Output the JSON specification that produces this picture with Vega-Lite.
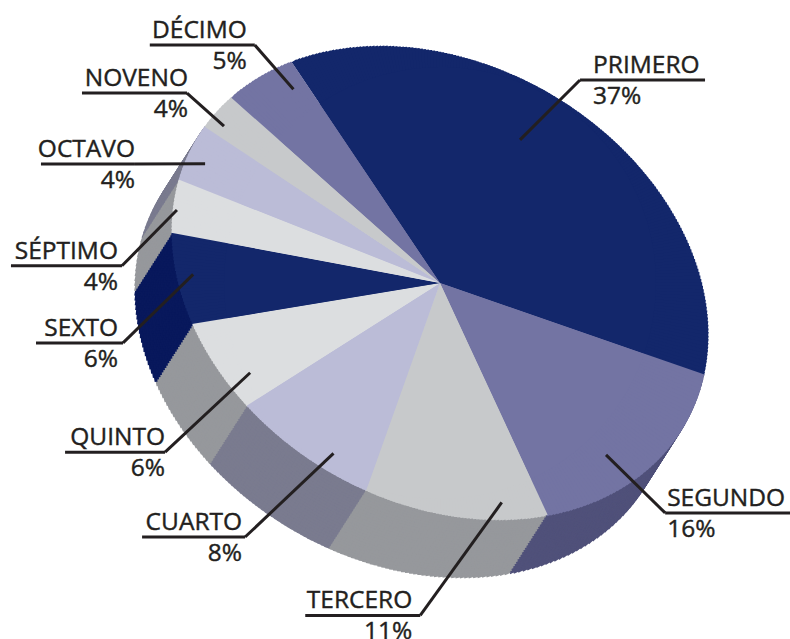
{"$schema":"https://vega.github.io/schema/vega-lite/v6.json","width":790,"height":639,"padding":0,"autosize":{"type":"none"},"background":"white","view":{"stroke":null},
"data":{"values":[
{"order":0,"slice":"PRIMERO","pct":37,"sweep":143},
{"order":1,"slice":"SEGUNDO","pct":16,"sweep":46},
{"order":2,"slice":"TERCERO","pct":11,"sweep":44.5},
{"order":3,"slice":"CUARTO","pct":8,"sweep":38},
{"order":4,"slice":"QUINTO","pct":6,"sweep":23},
{"order":5,"slice":"SEXTO","pct":6,"sweep":20},
{"order":6,"slice":"SÉPTIMO","pct":4,"sweep":11},
{"order":7,"slice":"OCTAVO","pct":4,"sweep":12},
{"order":8,"slice":"NOVENO","pct":4,"sweep":8},
{"order":9,"slice":"DÉCIMO","pct":5,"sweep":14.5}]},
"transform":[
{"stack":"sweep","groupby":[],"sort":[{"field":"order"}],"as":["a0","a1"]},
{"calculate":"[34.6,135.6,183.4,217.5,238.4,259.3,273.1,291.3,306.9,322.1][datum.order]*PI/180","as":"ea"},
{"calculate":"[246.6,321.8,333,320.2,322.8,322.6,318.5,327.4,316.4,301.5][datum.order]","as":"er"},
{"calculate":"[29.2,136,164.3,212,244.7,272,285.5,296.9,306,322.9][datum.order]*PI/180","as":"ia"},
{"calculate":"[164,239,228,201,210,247,273,263.4,267,243][datum.order]","as":"ir"},
{"calculate":"440+datum.er*sin(datum.ea)","as":"ex"},
{"calculate":"283-datum.er*cos(datum.ea)","as":"ey"},
{"calculate":"440+datum.ir*sin(datum.ia)","as":"ix"},
{"calculate":"283-datum.ir*cos(datum.ia)","as":"iy"},
{"calculate":"datum.order<2?1:-1","as":"side"},
{"calculate":"datum.ex+datum.side*[125,125,115,103,100,87,111,94,105,105][datum.order]","as":"ux"},
{"calculate":"datum.ex+[13,2,-8,-3,0,-5,-4,0,1,-8][datum.order]","as":"tx"},
{"calculate":"datum.ey-2","as":"ny"},
{"calculate":"datum.ey+5","as":"py"},
{"calculate":"datum.pct+'%'","as":"plabel"}
],
"layer":[
{"transform":[{"filter":"datum.order>=1&&datum.order<=7"},{"calculate":"sequence(datum.a0,datum.a1,1)","as":"t"},{"flatten":["t"]},{"calculate":"min(datum.t+1.4,datum.a1+0.2)","as":"t2"},{"calculate":"(datum.t+0.5-33.9-120)*PI/180","as":"phi"},{"calculate":"283*219/sqrt(pow(219*cos(datum.phi),2)+pow(283*sin(datum.phi),2))","as":"rim"},{"calculate":"datum.rim-6","as":"rimIn"},{"calculate":"sequence(0,1.001,0.04)","as":"s"},{"flatten":["s"]},{"calculate":"440-37*datum.s","as":"cx"},{"calculate":"283+58*datum.s","as":"cy"}],
"mark":{"type":"arc"},
"encoding":{"x":{"field":"cx","type":"quantitative","scale":{"domain":[0,790]},"axis":null},"y":{"field":"cy","type":"quantitative","scale":{"domain":[639,0]},"axis":null},"theta":{"field":"t","type":"quantitative","scale":{"domain":[0,360],"range":[-0.5917,5.6915]}},"theta2":{"field":"t2"},"radius":{"field":"rim","type":"quantitative","scale":null},"radius2":{"field":"rimIn"},
"order":{"field":"s","sort":"descending"},
"fill":{"field":"slice","type":"nominal","legend":null,"scale":{"domain":["PRIMERO","SEGUNDO","TERCERO","CUARTO","QUINTO","SEXTO","SÉPTIMO","OCTAVO","NOVENO","DÉCIMO"],"range":["#0d1a5a","#50517a","#96989c","#7a7b8f","#96989c","#08185c","#96989c","#7a7b8f","#96989c","#50517a"]}}}},
{"transform":[{"calculate":"sequence(datum.a0,datum.a1,0.75)","as":"t"},{"flatten":["t"]},{"calculate":"datum.order==9?min(datum.t+1.2,datum.a1):min(datum.t+1.2,datum.a1+0.2)","as":"t2"},{"calculate":"(datum.t+0.375-33.9-120)*PI/180","as":"phi"},{"calculate":"283*219/sqrt(pow(219*cos(datum.phi),2)+pow(283*sin(datum.phi),2))","as":"rim"}],
"mark":{"type":"arc","x":440,"y":283},
"encoding":{"theta":{"field":"t","type":"quantitative","scale":{"domain":[0,360],"range":[-0.5917,5.6915]}},"theta2":{"field":"t2"},"radius":{"field":"rim","type":"quantitative","scale":null},
"fill":{"field":"slice","type":"nominal","legend":null,"scale":{"domain":["PRIMERO","SEGUNDO","TERCERO","CUARTO","QUINTO","SEXTO","SÉPTIMO","OCTAVO","NOVENO","DÉCIMO"],"range":["#13276b","#7374a3","#c7c9cb","#bbbcd7","#dcdee0","#13276b","#dcdee0","#bbbcd7","#c7c9cb","#7374a3"]}}}},
{"mark":{"type":"arc","x":440,"y":283,"outerRadius":216},
"encoding":{"theta":{"field":"a0","type":"quantitative","scale":{"domain":[0,360],"range":[-0.5917,5.6915]}},"theta2":{"field":"a1"},
"fill":{"field":"slice","type":"nominal","legend":null,"scale":{"domain":["PRIMERO","SEGUNDO","TERCERO","CUARTO","QUINTO","SEXTO","SÉPTIMO","OCTAVO","NOVENO","DÉCIMO"],"range":["#13276b","#7374a3","#c7c9cb","#bbbcd7","#dcdee0","#13276b","#dcdee0","#bbbcd7","#c7c9cb","#7374a3"]}}}},
{"mark":{"type":"rule","stroke":"#231f20","strokeWidth":3},
"encoding":{"x":{"field":"ix","type":"quantitative","scale":{"domain":[0,790]},"axis":null},"y":{"field":"iy","type":"quantitative","scale":{"domain":[639,0]},"axis":null},"x2":{"field":"ex"},"y2":{"field":"ey"}}},
{"mark":{"type":"rule","stroke":"#231f20","strokeWidth":3},
"encoding":{"x":{"field":"ex","type":"quantitative","scale":{"domain":[0,790]},"axis":null},"y":{"field":"ey","type":"quantitative","scale":{"domain":[639,0]},"axis":null},"x2":{"field":"ux"}}},
{"mark":{"type":"text","font":"Open Sans","fontSize":24.5,"fontWeight":500,"color":"#231f20","stroke":"#231f20","strokeWidth":0.4,"baseline":"bottom","align":{"expr":"datum.side>0?'left':'right'"}},
"encoding":{"x":{"field":"tx","type":"quantitative","scale":{"domain":[0,790]},"axis":null},"y":{"field":"ny","type":"quantitative","scale":{"domain":[639,0]},"axis":null},"text":{"field":"slice"}}},
{"mark":{"type":"text","font":"Open Sans","fontSize":24.5,"fontWeight":500,"color":"#231f20","stroke":"#231f20","strokeWidth":0.4,"baseline":"top","align":{"expr":"datum.side>0?'left':'right'"}},
"encoding":{"x":{"field":"tx","type":"quantitative","scale":{"domain":[0,790]},"axis":null},"y":{"field":"py","type":"quantitative","scale":{"domain":[639,0]},"axis":null},"text":{"field":"plabel"}}}
],
"resolve":{"scale":{"fill":"independent"}}
}
